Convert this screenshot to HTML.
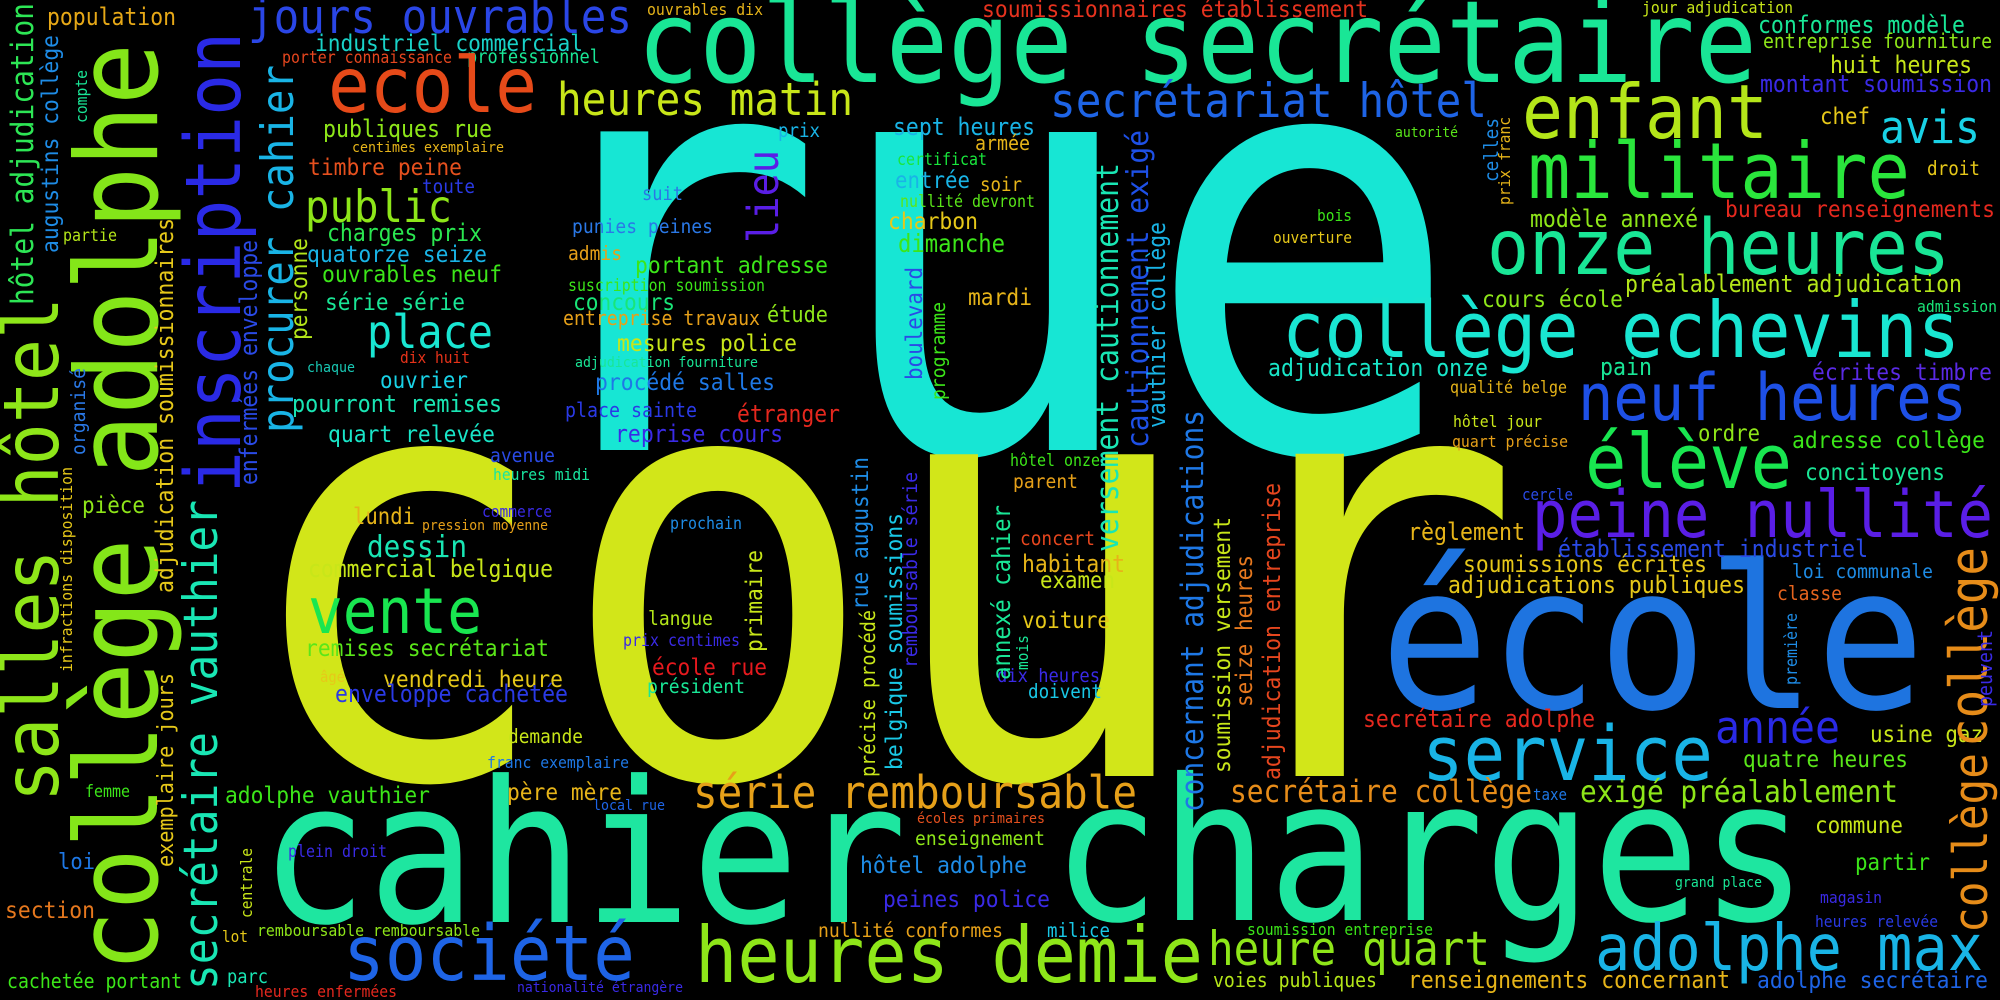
<!DOCTYPE html>
<html><head><meta charset="utf-8"><style>
html,body{margin:0;padding:0;background:#000;}
svg{display:block;}
text{font-family:"DejaVu Sans Mono","Liberation Mono",monospace;}
</style></head><body>
<svg id="cloud" width="2000" height="1000" viewBox="0 0 2000 1000" xmlns="http://www.w3.org/2000/svg">
<rect width="2000" height="1000" fill="#000"/>
</svg>
<script>
// Horizontal words: text, left x, baseline y, ink length, colour
const hWords = ["rue","cour","école","cahier","charges","collège secrétaire","population","jours ouvrables","industriel commercial","porter connaissance","professionnel","ecole","publiques rue","centimes exemplaire","timbre peine","toute","public","charges prix","quatorze seize","ouvrables neuf","série série","place","dix huit","chaque","ouvrier","pourront remises","quart relevée","avenue","heures midi","partie","ouvrables dix","heures matin","prix","suit","punies peines","admis","portant adresse","suscription soumission","concours","entreprise travaux","étude","mesures police","adjudication fourniture","procédé salles","place sainte","étranger","reprise cours","sept heures","armée","certificat","entrée","soir","nullité devront","charbon","dimanche","mardi","soumissionnaires établissement","secrétariat hôtel","autorité","bois","ouverture","collège echevins","adjudication onze","hôtel onze","parent","qualité belge","hôtel jour","quart précise","cours école","jour adjudication","conformes modèle","entreprise fourniture","huit heures","montant soumission","enfant","chef","avis","militaire","droit","bureau renseignements","modèle annexé","onze heures","préalablement adjudication","admission","pain","écrites timbre","neuf heures","ordre","adresse collège","élève","concitoyens","cercle","pièce","femme","loi","section","lot","remboursable remboursable","cachetée portant","parc","heures enfermées","lundi","pression moyenne","commerce","dessin","commercial belgique","vente","remises secrétariat","âgé","vendredi heure","enveloppe cachetée","franc exemplaire","adolphe vauthier","plein droit","société","prochain","langue","prix centimes","école rue","président","demande","père mère","local rue","série remboursable","nationalité étrangère","heures demie","hôtel adolphe","enseignement","écoles primaires","peines police","nullité conformes","milice","concert","habitant","examen","voiture","dix heures","doivent","règlement","soumissions écrites","adjudications publiques","secrétaire adolphe","service","secrétaire collège","taxe","heure quart","voies publiques","soumission entreprise","renseignements concernant","peine nullité","établissement industriel","loi communale","classe","année","usine gaz","quatre heures","exigé préalablement","commune","partir","grand place","magasin","heures relevée","adolphe max","adolphe secrétaire"];
const hX = [507,235,1380,260,1052,637,47,248,315,282,467,328,323,352,308,422,305,327,307,322,325,367,400,307,380,292,328,490,493,63,647,557,778,642,572,568,635,568,573,563,767,617,575,595,565,737,615,893,975,897,895,980,900,888,898,968,982,1050,1395,1317,1273,1282,1268,1010,1013,1450,1453,1452,1482,1642,1758,1763,1830,1760,1522,1820,1880,1528,1927,1725,1530,1487,1625,1917,1600,1812,1578,1698,1792,1585,1805,1522,82,85,58,5,222,257,7,227,255,353,422,482,367,308,308,305,320,383,335,487,225,288,343,670,648,623,652,647,508,507,593,693,517,695,860,915,917,883,818,1047,1020,1022,1040,1022,997,1028,1408,1463,1448,1363,1422,1230,1533,1208,1213,1247,1408,1532,1558,1792,1777,1715,1870,1743,1580,1815,1855,1675,1820,1815,1595,1757];
const hY = [450,776,708,922,920,82,25,33,51,63,63,112,137,152,175,193,222,241,262,282,310,348,363,372,388,412,442,462,480,241,15,115,137,200,233,260,273,291,310,325,322,351,367,390,417,422,442,135,150,165,188,191,207,229,252,305,17,117,137,221,243,357,376,466,488,393,427,447,307,13,33,48,73,92,138,124,143,198,175,217,227,274,292,312,375,380,420,441,448,488,480,500,513,797,869,918,942,936,988,983,997,524,530,517,557,577,633,656,682,687,702,768,803,857,980,529,625,646,675,693,743,800,810,808,992,982,873,845,823,907,937,937,545,572,588,628,682,698,540,572,593,727,780,802,800,965,987,935,988,537,557,578,600,743,742,767,802,833,870,887,903,927,970,988];
const hLen = [955,1288,545,647,756,1120,129,384,268,170,133,209,169,152,154,53,147,155,180,180,140,126,70,48,88,210,167,65,97,54,116,296,42,41,141,54,193,197,102,197,61,180,183,180,132,103,168,142,55,90,75,42,135,90,107,64,386,437,63,35,79,678,220,90,65,117,89,116,141,151,207,229,142,232,246,50,100,382,53,270,168,463,337,80,52,180,389,62,193,207,140,51,63,45,37,90,26,223,175,41,142,62,126,70,100,245,174,244,25,180,233,142,205,99,292,72,65,117,115,98,75,115,72,444,166,508,167,130,128,167,185,63,75,103,75,88,103,74,117,244,297,232,291,302,34,282,164,186,322,461,310,141,65,125,113,165,318,88,75,87,62,123,388,231];
const hColor = ["#17e6d4","#d2e619","#1e74e0","#1ee6a0","#1ee6a0","#19e696","#e6a817","#2a46e6","#19d2c8","#e6461e","#19e696","#e64a19","#8ee619","#e6b419","#e6501e","#2a3ae6","#8ee619","#2ae650","#19b4e6","#3ce619","#19e696","#19e6d2","#e63219","#19c8b4","#19d2e6","#19e6b4","#19e6c8","#2a4ae6","#19e6a0","#b4e619","#e6b419","#c8e619","#19b4e6","#2a78e6","#2a78e6","#e6a019","#3ce619","#3ce619","#19e678","#e6a019","#8ee619","#c8e619","#19e696","#1e78e6","#2a3ae6","#e6281e","#3a2ae6","#19b4e6","#e6b419","#19e63c","#19b4e6","#e6b419","#5ae619","#e6c819","#3ce619","#e6b419","#e6321e","#1e64e6","#5ae619","#3ce619","#e6c819","#19e6d2","#19e6c8","#3ce619","#e6a019","#e6b419","#c8e619","#e6a019","#8ee619","#c8e619","#19e696","#8ee619","#c8e619","#3a2ae6","#b4e619","#e6c819","#19d2e6","#2ae63c","#e6c819","#e6281e","#8ee619","#19e696","#b4e619","#19e678","#19e696","#5a2ae6","#1e50e6","#8ee619","#3ce619","#19e650","#19e696","#2a4ae6","#8ee619","#3ce619","#1e78e6","#e6781e","#e6c819","#8ee619","#3ce619","#19e6b4","#e6281e","#e6b419","#e6a019","#3a2ae6","#19e6b4","#c8e619","#19e650","#5ae619","#e6c819","#e6c819","#2a3ae6","#1e78e6","#3ce619","#3a2ae6","#1e64e6","#1e8ce6","#b4e619","#3a2ae6","#e6191e","#19e696","#c8e619","#e6b419","#1e64e6","#e6a019","#3a2ae6","#8ee619","#1e8ce6","#8ee619","#e6501e","#3a2ae6","#e6a019","#19c8e6","#e6461e","#e6b419","#c8e619","#e6c819","#3a2ae6","#19c8e6","#e6b419","#e6c819","#e6c819","#e6281e","#19b4e6","#e68c19","#1e78e6","#8ee619","#b4e619","#3ce619","#e6b419","#5a1ee6","#2a4ae6","#1e8ce6","#e6641e","#2a2ae6","#c8e619","#5ae619","#8ee619","#c8e619","#3ce619","#19e696","#3a2ae6","#2a3ae6","#19b4e6","#1e64e6"];

// Vertical words (read bottom to top): text, baseline x, bottom y, ink length, colour
const vWords = ["collège adolphe","hôtel adjudication","augustins collège","compte","salles hôtel","adjudication soumissionnaires","organisé","inscription","enfermées enveloppe","procurer cahier","personne","infractions disposition","lieu","boulevard","programme","celles","prix franc","versement cautionnement","cautionnement exigé","vauthier collège","concernant adjudications","secrétaire vauthier","exemplaire jours","centrale","primaire","précise procédé","rue augustin","belgique soumissions","remboursable série","annexé cahier","mois","soumission versement","seize heures","adjudication entreprise","première","collège","collège","peuvent"];
const vX = [157,33,58,87,58,173,85,240,257,293,307,72,778,922,945,1498,1510,1118,1148,1165,1203,217,173,252,762,875,868,902,917,1010,1028,1230,1252,1280,1797,1987,1987,1992];
const vY = [972,305,253,123,802,593,455,493,485,433,340,672,243,380,400,182,205,552,448,428,812,990,867,918,652,777,610,770,668,680,670,773,707,780,685,933,747,707];
const vLen = [929,302,218,53,505,375,87,461,245,368,102,205,93,113,98,64,88,389,318,206,402,490,194,70,102,167,153,257,196,175,35,256,152,297,72,180,200,77];
const vColor = ["#84e619","#2de655","#1e8ce6","#19e696","#8ee619","#e6c819","#2a78e6","#2a2ae6","#2a4ae6","#19b4e6","#b4e619","#e6c819","#5a1ee6","#2a4ae6","#3ce619","#1e8ce6","#e6b419","#19e6b4","#1e50e6","#19b4e6","#1e78e6","#19e6b4","#e6c819","#c8e619","#c8e619","#c8e619","#1e8ce6","#19c8e6","#3a2ae6","#19e696","#19e696","#c8e619","#e6781e","#e6461e","#1e8ce6","#e68c19","#e68c19","#3a2ae6"];

const svg = document.getElementById('cloud');
const NS = 'http://www.w3.org/2000/svg';
function fontSizeFor(text, len) {
  return 1.83 * len / text.length;
}
for (let i = 0; i < hWords.length; i++) {
  const t = document.createElementNS(NS, 'text');
  
  
  t.setAttribute('x', hX[i]);
  t.setAttribute('y', hY[i]);
  t.setAttribute('font-size', fontSizeFor(hWords[i], hLen[i]).toFixed(1));
  t.setAttribute('fill', hColor[i]);
  t.setAttribute('textLength', hLen[i]);
  t.setAttribute('lengthAdjust', 'spacingAndGlyphs');
  t.textContent = hWords[i];
  svg.appendChild(t);
}
for (let i = 0; i < vWords.length; i++) {
  const t = document.createElementNS(NS, 'text');
  
  
  t.setAttribute('x', 0);
  t.setAttribute('y', 0);
  t.setAttribute('transform', 'translate(' + vX[i] + ',' + vY[i] + ') rotate(-90)');
  t.setAttribute('font-size', fontSizeFor(vWords[i], vLen[i]).toFixed(1));
  t.setAttribute('fill', vColor[i]);
  t.setAttribute('textLength', vLen[i]);
  t.setAttribute('lengthAdjust', 'spacingAndGlyphs');
  t.textContent = vWords[i];
  svg.appendChild(t);
}
</script>
</body></html>
